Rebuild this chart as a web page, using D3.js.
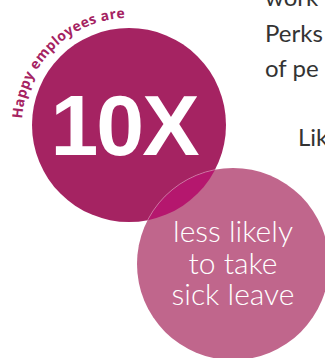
<!DOCTYPE html>
<html>
<head>
<meta charset="utf-8">
<script src="https://cdn.jsdelivr.net/npm/d3@7"></script>
<style>
  html, body { margin: 0; padding: 0; background: #fff; }
  svg { display: block; }
</style>
</head>
<body>
<div id="chart"></div>
<script>
'use strict';

// Chart content
var statValue = "10X";
var arcLabel = "Happy employees are";
var outcomeLines = ["less likely", "to take", "sick leave"];
var sideLines = ["work", "Perks", "of pe", "Lik"];
var bubbleNames = ["happy", "sick"];
var bubbleColors = ["#A52362", "#C0668C"];
var overlapColor = "#B5176E";

var width = 325, height = 358;

var svg = d3.select("#chart").append("svg")
    .attr("width", width)
    .attr("height", height);

// Layout of the two bubbles
var layout = {
    happy: {cx: 129, cy: 125, r: 97},
    sick:  {cx: 233, cy: 264, r: 96}
};
var colorScale = d3.scaleOrdinal().domain(bubbleNames).range(bubbleColors);

// Side paragraph (cut off at right edge)
var sideY = d3.scalePoint().domain([0, 1, 2]).range([6, 77]);
svg.selectAll("text.side")
    .data(sideLines)
  .enter().append("text")
    .attr("class", "side")
    .attr("x", function(d, i) { return i == 3 ? 298 : 265; })
    .attr("y", function(d, i) { return i == 3 ? 146 : sideY(i); })
    .attr("fill", "#333")
    .style("font-family", "Lato, 'Open Sans', sans-serif")
    .style("font-size", "24px")
    .text(function(d) { return d; });

// Bubbles
svg.selectAll("circle.bubble")
    .data(bubbleNames)
  .enter().append("circle")
    .attr("class", "bubble")
    .attr("cx", function(d) { return layout[d].cx; })
    .attr("cy", function(d) { return layout[d].cy; })
    .attr("r", function(d) { return layout[d].r; })
    .attr("fill", function(d) { return colorScale(d); });

// Overlap lens
svg.append("clipPath")
    .attr("id", "clip-happy")
  .append("circle")
    .attr("cx", layout.happy.cx)
    .attr("cy", layout.happy.cy)
    .attr("r", layout.happy.r);

svg.append("circle")
    .attr("cx", layout.sick.cx)
    .attr("cy", layout.sick.cy)
    .attr("r", layout.sick.r)
    .attr("clip-path", "url(#clip-happy)")
    .attr("fill", overlapColor)
    .attr("stroke", "#fff")
    .attr("stroke-opacity", 0.35)
    .attr("stroke-width", 1);

// Curved label round the big bubble
var arcR = layout.happy.r + 10;
var p = d3.path();
p.arc(layout.happy.cx, layout.happy.cy, arcR, Math.PI - 0.12, 2 * Math.PI, false);
svg.append("path")
    .attr("id", "labelArc")
    .attr("d", p.toString())
    .attr("fill", "none");

svg.append("text")
    .attr("fill", bubbleColors[0])
    .style("font-family", "'Open Sans', sans-serif")
    .style("font-weight", "bold")
    .style("font-size", "14px")
    .style("letter-spacing", "0.4px")
  .append("textPath")
    .attr("href", "#labelArc")
    .attr("startOffset", 19)
    .text(arcLabel);

// Big stat
svg.append("text")
    .attr("x", 124)
    .attr("y", 155)
    .attr("text-anchor", "middle")
    .attr("fill", "#fff")
    .style("font-family", "'Liberation Sans', Arial, sans-serif")
    .style("font-weight", "bold")
    .style("font-size", "86px")
    .style("letter-spacing", "-2px")
    .text(statValue);

// Outcome text in the small bubble
svg.selectAll("text.outcome")
    .data(outcomeLines)
  .enter().append("text")
    .attr("class", "outcome")
    .attr("x", layout.sick.cx)
    .attr("y", function(d, i) { return 242 + i * 31.5; })
    .attr("text-anchor", "middle")
    .attr("fill", "#fff")
    .style("font-family", "Lato, sans-serif")
    .style("font-weight", 300)
    .style("font-size", "30px")
    .text(function(d) { return d; });
</script>
</body>
</html>
